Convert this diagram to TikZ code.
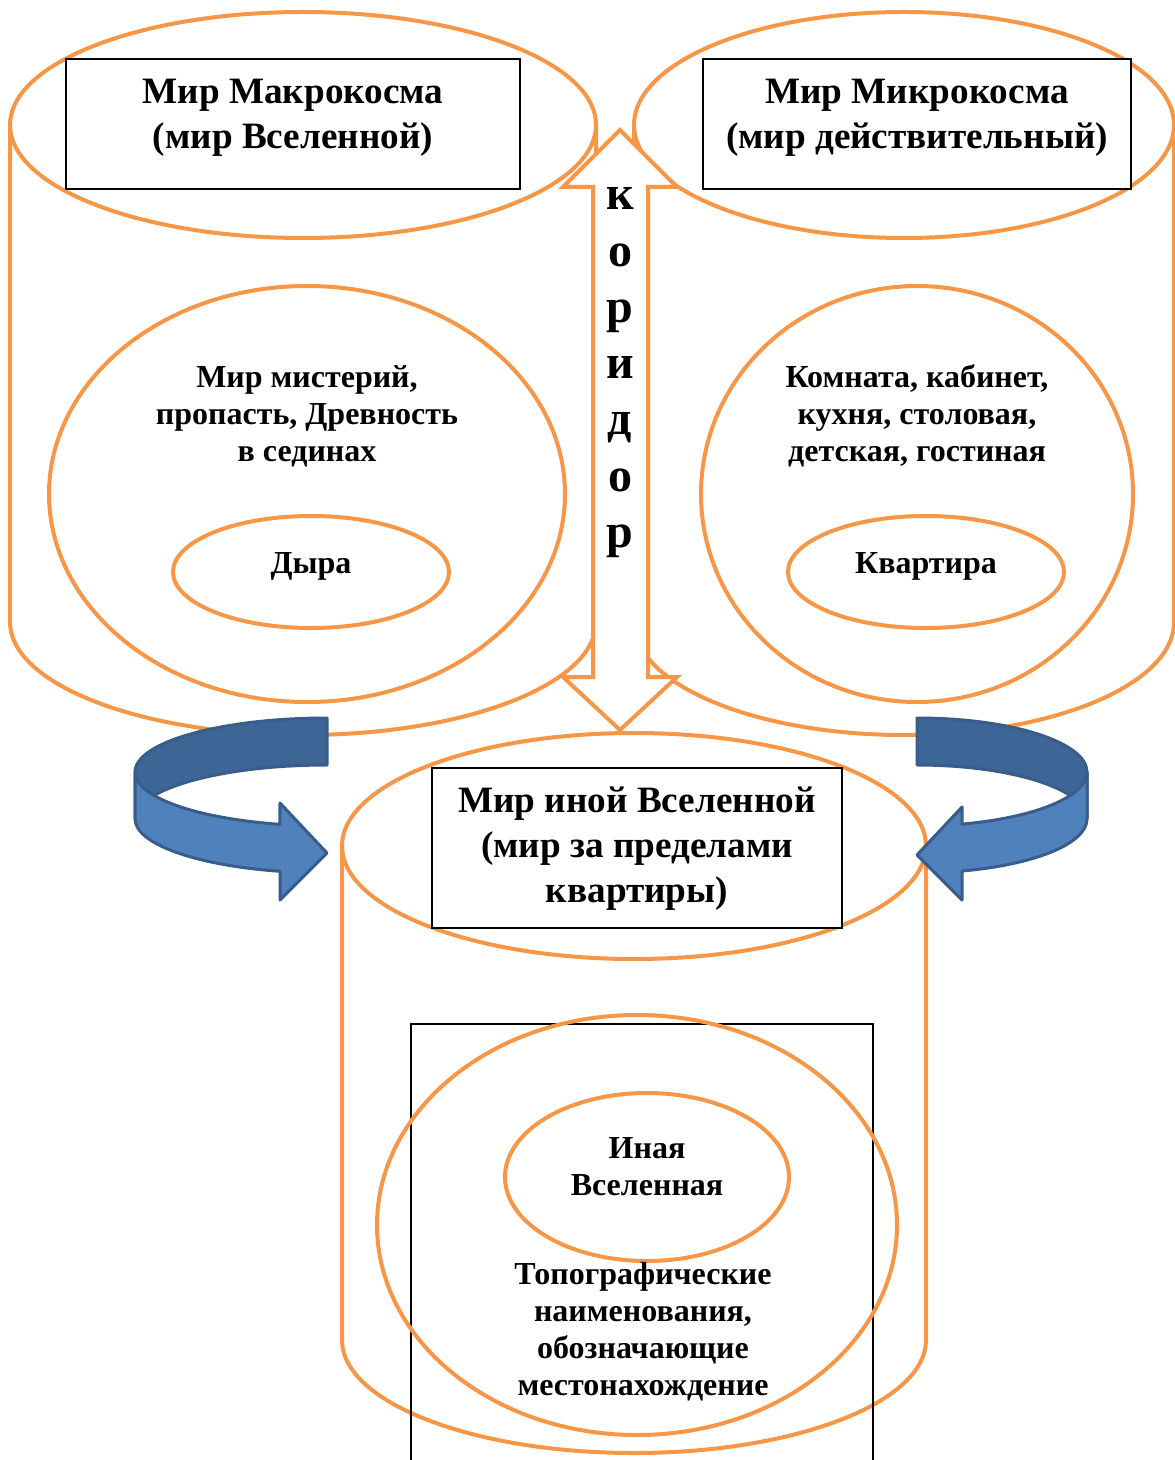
\documentclass[tikz,border=0pt]{standalone}
\usepackage{fontspec}
\setmainfont{Liberation Serif}
\definecolor{orangeline}{HTML}{F79646}
\definecolor{bluefront}{HTML}{4F81BD}
\definecolor{blueback}{HTML}{3D6596}
\definecolor{blueedge}{HTML}{385D8A}

\begin{document}
\begin{tikzpicture}[x=0.5pt,y=-0.5pt,
    worldline/.style={draw=orangeline, line width=2pt},
    titlebox/.style={draw=black, line width=0.75pt, fill=white},
    titletext/.style={font=\fontsize{18.6}{22.5}\selectfont\bfseries, align=center},
    bodytext/.style={font=\fontsize{16}{18.5}\selectfont\bfseries, align=center},
    corrtext/.style={font=\fontsize{24}{28}\selectfont\bfseries},
    backribbon/.style={fill=blueback, draw=blueedge, line width=1.5pt, line join=round},
    frontribbon/.style={fill=bluefront, draw=blueedge, line width=1.5pt, line join=round}]
  \useasboundingbox (0,0) rectangle (1174,1460);

  % Macrocosm cylinder
  \draw[worldline] (303,125) ellipse [x radius=293, y radius=113];
  \draw[worldline] (10,125) -- (10,622) arc [start angle=180, end angle=0, x radius=293, y radius=113] -- (596,125);
  \draw[worldline] (307,494) ellipse [x radius=258, y radius=208];
  \draw[worldline] (311,572) ellipse [x radius=138, y radius=56];

  % Microcosm cylinder
  \draw[worldline] (904,125) ellipse [x radius=270, y radius=113];
  \draw[worldline] (634,125) -- (634,622) arc [start angle=180, end angle=0, x radius=270, y radius=113] -- (1174,125);
  \draw[worldline] (917,494) ellipse [x radius=216, y radius=208];
  \draw[worldline] (926,572) ellipse [x radius=138, y radius=56];

  % other universe cylinder
  \draw[worldline] (634,846) ellipse [x radius=292, y radius=113];
  \draw[worldline] (342,846) -- (342,1340) arc [start angle=180, end angle=0, x radius=292, y radius=113] -- (926,846);
  \draw[black, line width=0.75pt] (411,1024) rectangle (873,1480);
  \draw[worldline] (637,1225) ellipse [x radius=260, y radius=210];
  \draw[worldline] (647,1177) ellipse [x radius=142, y radius=84];

  \node[titlebox, minimum width=227pt, minimum height=65pt] (macrobox) at (293,124) {};
  \node[titlebox, minimum width=214pt, minimum height=65pt] (microbox) at (917,124) {};
  \node[titlebox, minimum width=205pt, minimum height=80pt] (otherbox) at (637,848) {};

  % corridor
  \filldraw[worldline, fill=white] (620,130) -- (677,187) -- (648,187) -- (648,677) -- (677,677)
    -- (620,730) -- (563,677) -- (593,677) -- (593,187) -- (563,187) -- cycle;
  \foreach \ch [count=\i from 0] in {к,о,р,и,д,о,р}
    \node[corrtext, anchor=base] (corr\i) at (620,{210+56.2*\i}) {\ch};

  % curved arrows
  \filldraw[backribbon] (327,718) arc [start angle=270, end angle=180, x radius=192, y radius=54]
    -- (135,819) arc [start angle=180, end angle=270, x radius=192, y radius=54] -- cycle;
  \filldraw[frontribbon] (135,772) arc [start angle=180, end angle=104.2, x radius=192, y radius=54]
    -- (280,803) -- (327,853) -- (280,900) -- (280,871.3)
    arc [start angle=104.2, end angle=180, x radius=192, y radius=54] -- cycle;
  \filldraw[backribbon] (917,718) arc [start angle=270, end angle=360, x radius=170, y radius=54]
    -- (1087,819) arc [start angle=0, end angle=-90, x radius=170, y radius=54] -- cycle;
  \filldraw[frontribbon] (1087,772) arc [start angle=0, end angle=74.65, x radius=170, y radius=54]
    -- (962,807) -- (917,855) -- (962,900) -- (962,871)
    arc [start angle=74.65, end angle=0, x radius=170, y radius=54] -- cycle;

  % texts
  \node[titletext] (macrotitle) at (293,118) {Мир Макрокосма\\(мир Вселенной)};
  \node[titletext] (microtitle) at (917,118) {Мир Микрокосма\\(мир действительный)};
  \node[bodytext] (mysteries) at (307,416) {Мир мистерий,\\пропасть, Древность\\в сединах};
  \node[bodytext] (hole) at (311,566) {Дыра};
  \node[bodytext] (rooms) at (917,416) {Комната, кабинет,\\кухня, столовая,\\детская, гостиная};
  \node[bodytext] (flat) at (926,566) {Квартира};
  \node[titletext] (othertitle) at (637,849) {Мир иной Вселенной\\(мир за пределами\\квартиры)};
  \node[bodytext] (otheruniverse) at (647,1167) {Иная\\Вселенная};
  \node[bodytext] (toponyms) at (643,1332) {Топографические\\наименования,\\обозначающие\\местонахождение};
\end{tikzpicture}
\end{document}
